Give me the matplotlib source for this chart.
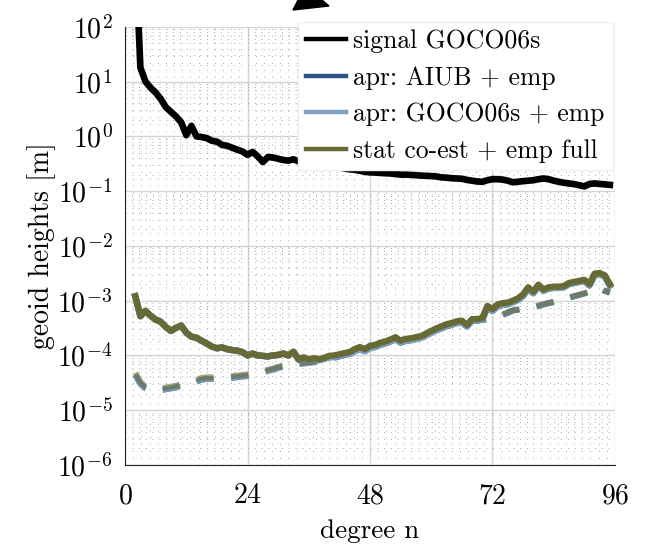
import matplotlib
matplotlib.use("Agg")
import matplotlib.pyplot as plt
import numpy as np
from matplotlib.ticker import MultipleLocator, LogLocator, NullFormatter
from matplotlib.patches import Polygon

plt.rcParams['font.family'] = 'serif'
plt.rcParams['font.serif'] = ['cmr10']
plt.rcParams['mathtext.fontset'] = 'cm'
plt.rcParams['axes.formatter.use_mathtext'] = True

# degree n = 2 .. 95
degree = np.arange(2, 96)

# signal of GOCO06s [m]
signal = [3000, 18, 10, 7.7, 6.3, 4.8, 3.4, 2.8, 2.3, 1.8,
          1.05, 1.55, 1.0, 0.97, 0.93, 0.83, 0.8, 0.7, 0.67, 0.62,
          0.57, 0.53, 0.46, 0.52, 0.43, 0.34, 0.42, 0.41, 0.39, 0.37,
          0.36, 0.38, 0.35, 0.34, 0.33, 0.32, 0.31, 0.30, 0.29, 0.28,
          0.27, 0.26, 0.25, 0.245, 0.235, 0.225, 0.22, 0.218, 0.215, 0.212,
          0.21, 0.205, 0.2, 0.2, 0.198, 0.195, 0.192, 0.19, 0.188, 0.185,
          0.178, 0.176, 0.172, 0.17, 0.168, 0.16, 0.155, 0.15, 0.148, 0.158,
          0.165, 0.165, 0.162, 0.155, 0.145, 0.148, 0.152, 0.155, 0.158, 0.165,
          0.17, 0.165, 0.155, 0.148, 0.142, 0.138, 0.134, 0.128, 0.122, 0.135,
          0.138, 0.135, 0.133, 0.13]

# differences, stat co-est + emp full [m]
stat_diff = [1.2e-3, 5.2e-4, 6.5e-4, 5.3e-4, 4.5e-4, 4.1e-4, 3.3e-4, 2.8e-4, 3.2e-4, 3.5e-4,
             2.6e-4, 2.2e-4, 2.1e-4, 1.85e-4, 1.65e-4, 1.45e-4, 1.35e-4, 1.4e-4, 1.3e-4, 1.25e-4,
             1.22e-4, 1.15e-4, 1.0e-4, 1.08e-4, 1.0e-4, 9.8e-5, 9.6e-5, 1.0e-4, 1.02e-4, 1.08e-4,
             1.0e-4, 1.17e-4, 8.5e-5, 9.2e-5, 8.4e-5, 8.9e-5, 8.5e-5, 9.0e-5, 9.8e-5, 1.0e-4,
             1.05e-4, 1.1e-4, 1.15e-4, 1.3e-4, 1.42e-4, 1.3e-4, 1.5e-4, 1.55e-4, 1.7e-4, 1.8e-4,
             1.95e-4, 2.15e-4, 1.85e-4, 2.0e-4, 2.05e-4, 2.15e-4, 2.25e-4, 2.5e-4, 2.8e-4, 3.1e-4,
             3.4e-4, 3.7e-4, 3.9e-4, 4.2e-4, 4.3e-4, 3.6e-4, 4.6e-4, 4.6e-4, 4.8e-4, 8.0e-4,
             7.0e-4, 8.5e-4, 9.0e-4, 9.2e-4, 1.0e-3, 1.1e-3, 1.3e-3, 1.75e-3, 1.45e-3, 1.95e-3,
             1.6e-3, 1.75e-3, 1.8e-3, 1.8e-3, 1.85e-3, 2.1e-3, 2.2e-3, 2.3e-3, 2.4e-3, 2.0e-3,
             3.1e-3, 3.2e-3, 2.9e-3, 2.0e-3]

# differences, apr solutions (AIUB / GOCO06s) + emp [m]
apr_diff = [1.2e-3, 5.2e-4, 6.5e-4, 5.3e-4, 4.5e-4, 4.1e-4, 3.3e-4, 2.8e-4, 3.2e-4, 3.5e-4,
            2.6e-4, 2.2e-4, 2.1e-4, 1.85e-4, 1.65e-4, 1.45e-4, 1.35e-4, 1.4e-4, 1.3e-4, 1.25e-4,
            1.22e-4, 1.15e-4, 1.0e-4, 1.08e-4, 1.0e-4, 9.8e-5, 9.6e-5, 1.0e-4, 1.02e-4, 1.08e-4,
            1.0e-4, 1.15e-4, 8.4e-5, 9.0e-5, 8.2e-5, 8.6e-5, 8.2e-5, 8.7e-5, 9.3e-5, 9.4e-5,
            9.8e-5, 1.02e-4, 1.07e-4, 1.2e-4, 1.3e-4, 1.2e-4, 1.38e-4, 1.43e-4, 1.57e-4, 1.66e-4,
            1.8e-4, 1.98e-4, 1.72e-4, 1.85e-4, 1.9e-4, 2.0e-4, 2.1e-4, 2.33e-4, 2.6e-4, 2.9e-4,
            3.15e-4, 3.45e-4, 3.65e-4, 3.9e-4, 4.0e-4, 3.4e-4, 4.3e-4, 4.3e-4, 4.5e-4, 7.5e-4,
            6.5e-4, 7.9e-4, 8.4e-4, 8.6e-4, 9.4e-4, 1.03e-3, 1.22e-3, 1.65e-3, 1.37e-3, 1.85e-3,
            1.52e-3, 1.66e-3, 1.71e-3, 1.71e-3, 1.76e-3, 2.0e-3, 2.1e-3, 2.2e-3, 2.3e-3, 1.9e-3,
            2.95e-3, 3.05e-3, 2.75e-3, 1.9e-3]

# formal errors, apr solutions [m]
apr_formal = [4.4e-5, 3.0e-5, 2.5e-5, 2.3e-5, 2.2e-5, 2.3e-5, 2.4e-5, 2.5e-5, 2.6e-5, 2.8e-5,
              2.9e-5, 3.0e-5, 3.3e-5, 3.6e-5, 3.7e-5, 3.7e-5, 3.8e-5, 3.8e-5, 3.8e-5, 3.9e-5,
              4.0e-5, 4.1e-5, 4.2e-5, 4.4e-5, 4.6e-5, 4.9e-5, 5.2e-5, 5.5e-5, 5.9e-5, 6.2e-5,
              6.5e-5, 6.8e-5, 6.9e-5, 7.1e-5, 7.3e-5, 7.5e-5, 7.8e-5, 8.0e-5, 8.4e-5, 9.0e-5,
              9.6e-5, 1.02e-4, 1.08e-4, 1.15e-4, 1.22e-4, 1.28e-4, 1.35e-4, 1.45e-4, 1.55e-4, 1.65e-4,
              1.75e-4, 1.85e-4, 1.9e-4, 1.95e-4, 2.0e-4, 2.1e-4, 2.2e-4, 2.4e-4, 2.6e-4, 2.9e-4,
              3.1e-4, 3.4e-4, 3.6e-4, 3.8e-4, 4.0e-4, 4.1e-4, 4.2e-4, 4.4e-4, 4.5e-4, 4.6e-4,
              4.8e-4, 5.0e-4, 5.5e-4, 6.0e-4, 6.6e-4, 6.8e-4, 7.0e-4, 7.3e-4, 7.6e-4, 8.0e-4,
              8.5e-4, 9.0e-4, 9.4e-4, 9.8e-4, 1.05e-3, 1.12e-3, 1.2e-3, 1.27e-3, 1.35e-3, 1.45e-3,
              1.6e-3, 1.7e-3, 1.5e-3, 1.4e-3]

# formal errors, stat co-est [m]
stat_formal = [4.8e-5, 3.3e-5, 2.7e-5, 2.5e-5, 2.4e-5, 2.5e-5, 2.6e-5, 2.7e-5, 2.8e-5, 3.0e-5,
               3.1e-5, 3.3e-5, 3.6e-5, 3.9e-5, 4.0e-5, 4.0e-5, 4.1e-5, 4.1e-5, 4.1e-5, 4.2e-5,
               4.3e-5, 4.4e-5, 4.5e-5, 4.7e-5, 4.9e-5, 5.2e-5, 5.5e-5, 5.8e-5, 6.2e-5, 6.5e-5,
               6.8e-5, 7.1e-5, 7.2e-5, 7.4e-5, 7.6e-5, 7.8e-5, 8.1e-5, 8.3e-5, 8.7e-5, 9.3e-5,
               9.9e-5, 1.05e-4, 1.11e-4, 1.18e-4, 1.25e-4, 1.31e-4, 1.38e-4, 1.48e-4, 1.58e-4, 1.68e-4,
               1.78e-4, 1.88e-4, 1.93e-4, 1.98e-4, 2.03e-4, 2.13e-4, 2.23e-4, 2.43e-4, 2.63e-4, 2.93e-4,
               3.13e-4, 3.43e-4, 3.63e-4, 3.83e-4, 4.03e-4, 4.13e-4, 4.23e-4, 4.43e-4, 4.53e-4, 4.65e-4,
               4.85e-4, 5.1e-4, 5.6e-4, 6.1e-4, 6.7e-4, 6.9e-4, 7.1e-4, 7.4e-4, 7.7e-4, 8.1e-4,
               8.6e-4, 9.1e-4, 9.5e-4, 9.9e-4, 1.06e-3, 1.13e-3, 1.21e-3, 1.28e-3, 1.36e-3, 1.47e-3,
               1.62e-3, 1.72e-3, 1.52e-3, 1.42e-3]

c_dark = '#2c5587'
c_light = '#7ea1c4'
c_olive = '#676a34'

fig = plt.figure(figsize=(6.48, 5.47), dpi=100)
ax = fig.add_axes([0.193, 0.150, 0.756, 0.801])

# formal errors, dashed
ax.plot(degree, apr_formal, color=c_dark, lw=4.2, ls=(0, (3, 3)), alpha=0.8, zorder=2)
ax.plot(degree, apr_formal, color=c_light, lw=4.2, ls=(0, (3, 3)), alpha=0.8, zorder=2)
ax.plot(degree, stat_formal, color=c_olive, lw=4.2, ls=(0, (3, 3)), alpha=0.6, zorder=2)

# differences, solid
l_sig, = ax.plot(degree, signal, color='black', lw=4.8, zorder=4, label='signal GOCO06s')
l_aiub, = ax.plot(degree, apr_diff, color=c_dark, lw=4.6, zorder=3, label='apr: AIUB + emp')
l_goco, = ax.plot(degree, apr_diff, color=c_light, lw=4.6, zorder=3, label='apr: GOCO06s + emp')
l_stat, = ax.plot(degree, stat_diff, color=c_olive, lw=4.6, zorder=3, label='stat co-est + emp full')

ax.set_yscale('log')
ax.set_xlim(0, 96)
ax.set_ylim(1e-6, 1e2)
ax.set_xticks([0, 24, 48, 72, 96])
ax.xaxis.set_minor_locator(MultipleLocator(1.6))
ax.yaxis.set_major_locator(LogLocator(base=10, numticks=20))
ax.yaxis.set_minor_locator(LogLocator(base=10, subs=np.arange(2, 10), numticks=20))
ax.yaxis.set_minor_formatter(NullFormatter())

ax.grid(True, which='major', color='#d4d4d4', lw=1.0, ls='-')
ax.grid(True, which='minor', color='#a8a8a8', lw=0.7, ls=(0, (1, 6)))
ax.set_axisbelow(True)

for s in ['top', 'right']:
    ax.spines[s].set_visible(False)
ax.spines['left'].set_color('#222222')
ax.spines['bottom'].set_color('#222222')
ax.tick_params(which='both', length=0, labelsize=20)
ax.tick_params(axis='y', pad=9)
ax.tick_params(axis='x', pad=13)

ax.set_xlabel('degree n', fontsize=19.5, labelpad=7)
ax.set_ylabel('geoid heights [m]', fontsize=20, labelpad=1)

leg = ax.legend(handles=[l_sig, l_aiub, l_goco, l_stat], loc='upper right',
                bbox_to_anchor=(0.995, 1.012), borderaxespad=0, fontsize=18.5,
                frameon=True, fancybox=False, framealpha=1, edgecolor='#f0f0f0',
                handlelength=1.55, handletextpad=0.3, labelspacing=0.5,
                borderpad=0.3)
leg.set_zorder(5)
for ln in leg.get_lines():
    ln.set_linewidth(3.2)

# clipped arrow head at the top edge
W, H = 648, 547
tri = [(293, 10), (298, 0), (322, 0), (329, 6)]
fig.patches.append(Polygon([(x / W, 1 - y / H) for x, y in tri], closed=True,
                           transform=fig.transFigure, color='black'))

fig.savefig('out.png', dpi=100)
